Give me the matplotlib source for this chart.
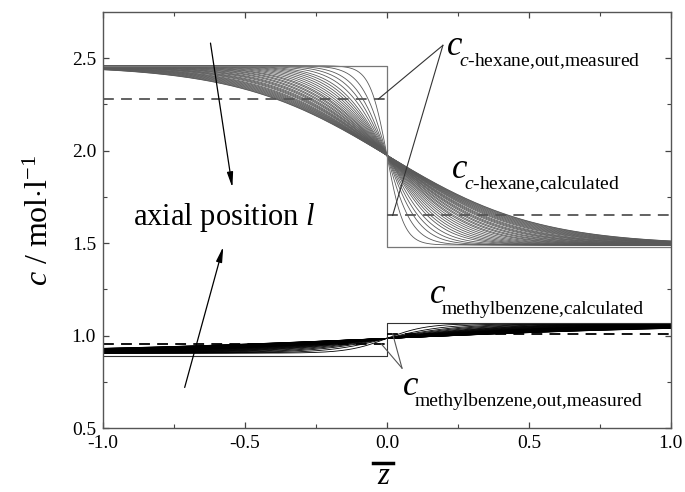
"""
Concentration profiles of c-hexane and methylbenzene along the
dimensionless axial coordinate z, with measured outlet values.
"""

import numpy as np
import matplotlib.pyplot as plt
from matplotlib.transforms import offset_copy

# -- data ------------------------------------------------------------------
# step (inlet) profiles
step_z = [-1.0, 0.0, 0.0, 1.0]
hexane_step = [2.46, 2.46, 1.48, 1.48]
methyl_step = [0.89, 0.89, 1.07, 1.07]

# measured outlet concentrations (left half, right half)
hexane_measured = [2.28, 1.65]
methyl_measured = [0.955, 1.01]

# calculated profiles: centre value, half amplitude, spreading widths
hexane_centre, hexane_amp = 1.975, 0.485
methyl_centre, methyl_amp = 0.985, 0.080
hexane_widths = [0.06, 0.09, 0.115, 0.135, 0.155, 0.175, 0.19, 0.205,
                 0.22, 0.235, 0.25, 0.265, 0.28, 0.29, 0.305, 0.315,
                 0.33, 0.34, 0.355, 0.365, 0.375, 0.39, 0.40, 0.41,
                 0.42, 0.435, 0.445, 0.455, 0.465, 0.475, 0.485, 0.495,
                 0.505, 0.515, 0.525, 0.53]
methyl_widths = [2.3 * w for w in hexane_widths]

z = np.linspace(-1.0, 1.0, 801)

# -- style -----------------------------------------------------------------
plt.rcParams['font.family'] = ['Liberation Serif', 'DejaVu Serif']
plt.rcParams['mathtext.fontset'] = 'custom'
plt.rcParams['mathtext.rm'] = 'Liberation Serif'
plt.rcParams['mathtext.it'] = 'Liberation Serif:italic'

fig = plt.figure(figsize=(6.85, 4.92), dpi=100)
ax = fig.add_axes([0.1504, 0.130, 0.829, 0.8455])

# c-hexane
for w in hexane_widths:
    ax.plot(z, hexane_centre - hexane_amp * np.tanh(z / w),
            color='#5a5a5a', lw=0.6)
ax.plot(step_z, hexane_step, color='#777777', lw=0.9)
ax.plot([-1, 0], [hexane_measured[0]] * 2, color='#555555', lw=1.3,
        dashes=(6, 4))
ax.plot([0, 1], [hexane_measured[1]] * 2, color='#555555', lw=1.3,
        dashes=(6, 4))

# methylbenzene
for w in methyl_widths:
    ax.plot(z, methyl_centre + methyl_amp * np.tanh(z / w),
            color='black', lw=0.6)
ax.plot(step_z, methyl_step, color='#333333', lw=0.8)
ax.plot([-1, 0], [methyl_measured[0]] * 2, color='black', lw=1.3,
        dashes=(6, 4))
ax.plot([0, 1], [methyl_measured[1]] * 2, color='black', lw=1.3,
        dashes=(6, 4))

ax.set_xlim(-1.0, 1.0)
ax.set_ylim(0.5, 2.75)
ax.set_xticks([-1.0, -0.5, 0.0, 0.5, 1.0])
ax.set_xticks([-0.75, -0.25, 0.25, 0.75], minor=True)
ax.set_yticks([0.5, 1.0, 1.5, 2.0, 2.5])
ax.set_yticks([0.75, 1.25, 1.75, 2.25], minor=True)
ax.set_xticklabels(['-1.0', '-0.5', '0.0', '0.5', '1.0'])
ax.tick_params(which='both', direction='in', top=True, right=True,
               labelsize=14, color='#444444')
ax.tick_params(which='major', length=4.5, width=0.9, pad=5)
ax.tick_params(which='minor', length=3, width=0.8)
for s in ax.spines.values():
    s.set_color('#555555')
    s.set_linewidth(1.0)

ax.set_ylabel(r'$c$ / mol$\cdot$l$^{-1}$', fontsize=23, labelpad=12)

# axis label z with an overbar
fig.text(383 / 685, 1 / 492, 'z', fontsize=22, style='italic',
         ha='center', va='bottom')
fig.add_artist(plt.Line2D([373 / 685, 393 / 685], [29 / 492, 29 / 492],
                          color='black', lw=2.5))


def species_label(x, y, sub):
    """Italic c with a partly italic subscript written after it."""
    ax.text(x, y, 'c', fontsize=25, style='italic', va='baseline')
    tr = offset_copy(ax.transData, fig=fig, x=12, y=-11, units='dots')
    ax.text(x, y, sub, fontsize=14, va='baseline', transform=tr)


species_label(0.211, 2.516, r'$c$-hexane,out,measured')
species_label(0.229, 1.851, r'$c$-hexane,calculated')
species_label(0.151, 1.176, 'methylbenzene,calculated')
species_label(0.056, 0.678, 'methylbenzene,out,measured')

# pointer lines to the measured values
for end in [(-0.03, 2.28), (0.02, 1.65)]:
    ax.plot([0.197, end[0]], [2.570, end[1]], color='#333333', lw=0.8)
for end in [(-0.02, 0.955), (0.02, 1.01)]:
    ax.plot([0.053, end[0]], [0.824, end[1]], color='#555555', lw=0.8)

# axial position arrows
ax.text(-0.894, 1.597, r'axial position $l$', fontsize=22, va='baseline')
arrow = dict(arrowstyle='-|>,head_length=0.9,head_width=0.18',
             color='black', lw=0.9)
ax.annotate('', xy=(-0.543, 1.786), xytext=(-0.623, 2.597), arrowprops=arrow)
ax.annotate('', xy=(-0.574, 1.495), xytext=(-0.715, 0.705), arrowprops=arrow)

fig.savefig('out.png', dpi=100)
